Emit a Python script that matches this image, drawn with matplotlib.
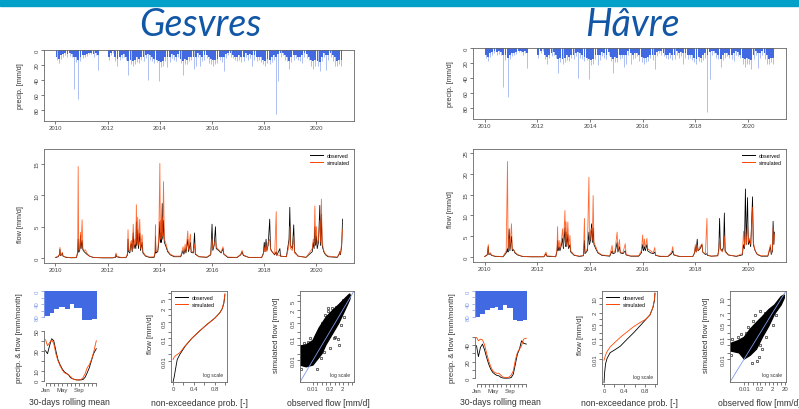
import numpy as np
import matplotlib.pyplot as plt
from matplotlib.lines import Line2D
from matplotlib.patches import Rectangle

W, H = 799, 410
plt.rcParams['font.family'] = ['Liberation Sans', 'DejaVu Sans']
plt.rcParams['axes.linewidth'] = 0.6
plt.rcParams['axes.edgecolor'] = '#666666'

BLUE = '#4169E1'
RED = '#FF4500'
LIGHTBLUE = '#7F9BEA'

# ---------------- data ----------------
# daily precipitation, summarised per month 2010-01 .. 2020-12 (same forcing for both catchments)
precip_typ = [
    10, 12, 7, 5, 4, 5, 4, 5, 10, 10, 13, 10,
    7, 7, 5, 4, 4, 5, 4, 7, 0, 0, 0, 0,
    9, 4, 2, 10, 12, 9, 7, 5, 9, 15, 13, 15,
    13, 10, 12, 9, 9, 7, 5, 7, 9, 12, 13, 15,
    16, 15, 10, 9, 9, 5, 7, 9, 5, 12, 15, 12,
    13, 10, 9, 10, 10, 4, 7, 9, 7, 7, 10, 12,
    13, 13, 12, 9, 10, 9, 5, 4, 4, 7, 9, 9,
    7, 10, 9, 4, 7, 5, 7, 7, 9, 9, 10, 13,
    15, 12, 13, 10, 7, 9, 5, 4, 4, 7, 10, 15,
    10, 7, 7, 9, 9, 7, 4, 5, 9, 13, 15, 13,
    15, 16, 10, 4, 7, 7, 4, 7, 10, 15, 13, 13]
precip_max = [
    14, 17, 12, 9, 7, 10, 8, 9, 52, 16, 65, 15,
    11, 10, 8, 6, 6, 9, 7, 27, 0, 0, 0, 0,
    13, 7, 4, 15, 21, 13, 11, 10, 13, 34, 19, 21,
    19, 16, 17, 13, 15, 11, 40, 13, 15, 17, 16, 42,
    23, 21, 15, 23, 16, 11, 13, 15, 9, 17, 34, 19,
    19, 15, 13, 25, 21, 9, 22, 15, 13, 11, 17, 19,
    21, 19, 17, 13, 16, 28, 11, 7, 9, 11, 13, 15,
    13, 16, 15, 9, 13, 11, 22, 13, 15, 13, 16, 19,
    21, 17, 19, 16, 13, 85, 42, 9, 7, 13, 15, 25,
    16, 13, 11, 13, 15, 17, 9, 11, 13, 22, 25, 21,
    21, 28, 15, 9, 27, 13, 9, 15, 21, 22, 19, 21]

# hydrograph nodes: (decimal year, observed, simulated) [mm/d]
gesvres_flow = [
    (2010.00, 0.05, 0.10), (2010.10, 0.20, 0.30), (2010.15, 0.50, 0.60), (2010.17, 1.4, 1.7),
    (2010.19, 0.4, 0.5), (2010.24, 0.5, 0.6), (2010.26, 0.8, 0.9), (2010.29, 0.3, 0.3),
    (2010.40, 0.10, 0.15), (2010.60, 0.03, 0.05), (2010.80, 0.05, 0.10), (2010.85, 0.8, 0.9),
    (2010.87, 3.0, 14.6), (2010.89, 0.9, 1.2), (2010.93, 1.2, 1.5), (2010.96, 3.6, 4.1),
    (2010.98, 1.5, 1.8), (2011.02, 2.8, 6.1), (2011.05, 1.3, 1.5), (2011.10, 1.0, 1.2),
    (2011.15, 0.8, 1.3), (2011.20, 0.6, 0.8), (2011.30, 0.3, 0.3), (2011.45, 0.08, 0.1),
    (2011.80, 0.02, 0.05), (2012.20, 0.02, 0.05), (2012.30, 0.1, 0.2), (2012.32, 0.6, 0.8),
    (2012.34, 0.2, 0.3), (2012.50, 0.05, 0.1), (2012.70, 0.05, 0.1), (2012.76, 0.5, 0.7),
    (2012.78, 3.0, 4.5), (2012.80, 1.0, 1.3), (2012.85, 0.8, 1.0), (2012.88, 2.0, 2.5),
    (2012.91, 2.3, 2.8), (2012.94, 1.0, 1.2), (2012.98, 4.0, 5.4), (2013.01, 1.5, 1.8),
    (2013.05, 2.2, 3.0), (2013.08, 1.5, 2.0), (2013.10, 5.8, 8.5), (2013.12, 2.0, 2.5),
    (2013.15, 4.5, 6.5), (2013.18, 1.5, 2.0), (2013.23, 4.0, 6.2), (2013.26, 1.2, 1.5),
    (2013.32, 2.5, 3.7), (2013.35, 0.8, 1.0), (2013.45, 0.3, 0.4), (2013.60, 0.1, 0.15),
    (2013.78, 0.1, 0.2), (2013.82, 0.8, 1.2), (2013.83, 3.5, 5.3), (2013.85, 0.8, 1.0),
    (2013.92, 1.0, 1.3), (2013.96, 2.5, 3.5), (2014.00, 5.8, 15.1), (2014.02, 2.5, 3.0),
    (2014.04, 4.0, 6.0), (2014.06, 2.5, 3.0), (2014.09, 8.7, 6.5), (2014.11, 3.0, 3.5),
    (2014.14, 6.0, 12.2), (2014.17, 2.5, 3.0), (2014.22, 2.0, 2.5), (2014.30, 1.0, 1.2),
    (2014.40, 0.5, 0.6), (2014.55, 0.2, 0.3), (2014.80, 0.2, 0.3), (2014.89, 1.2, 1.8),
    (2014.92, 0.6, 0.8), (2014.97, 1.5, 2.2), (2015.00, 0.8, 1.0), (2015.07, 3.0, 4.3),
    (2015.10, 1.0, 1.3), (2015.17, 2.5, 3.8), (2015.20, 0.9, 1.0), (2015.28, 0.8, 1.0),
    (2015.33, 4.0, 2.2), (2015.36, 0.6, 0.7), (2015.50, 0.2, 0.2), (2015.80, 0.1, 0.15),
    (2015.95, 0.5, 0.6), (2016.00, 5.4, 3.0), (2016.03, 1.2, 1.5), (2016.08, 2.0, 2.2),
    (2016.13, 5.0, 2.8), (2016.16, 1.5, 1.8), (2016.25, 1.2, 1.3), (2016.35, 0.8, 0.9),
    (2016.42, 1.5, 1.8), (2016.45, 0.6, 0.7), (2016.60, 0.1, 0.15), (2016.95, 0.05, 0.1),
    (2017.10, 0.5, 0.6), (2017.15, 1.0, 1.2), (2017.20, 0.4, 0.5), (2017.40, 0.1, 0.1),
    (2017.90, 0.05, 0.1), (2017.97, 0.8, 0.6), (2018.00, 2.5, 1.8), (2018.03, 1.0, 1.0),
    (2018.07, 3.0, 2.2), (2018.10, 1.2, 1.0), (2018.15, 2.0, 2.5), (2018.21, 6.2, 3.0),
    (2018.24, 1.5, 1.3), (2018.30, 1.0, 1.0), (2018.40, 0.5, 0.6), (2018.46, 1.0, 7.4),
    (2018.48, 0.4, 0.5), (2018.60, 1.5, 0.4), (2018.62, 0.3, 0.3), (2018.85, 0.2, 0.2),
    (2018.95, 3.0, 2.0), (2018.98, 8.1, 5.0), (2019.01, 2.0, 1.5), (2019.08, 1.5, 1.2),
    (2019.13, 5.3, 3.5), (2019.16, 1.0, 0.8), (2019.30, 0.3, 0.3), (2019.60, 0.1, 0.1),
    (2019.84, 1.0, 1.5), (2019.88, 2.5, 3.0), (2019.91, 1.5, 2.0), (2019.94, 5.0, 8.3),
    (2019.97, 2.0, 2.5), (2020.00, 3.5, 5.0), (2020.03, 1.5, 2.0), (2020.08, 2.5, 3.0),
    (2020.13, 8.4, 6.0), (2020.16, 2.0, 2.5), (2020.19, 7.0, 9.4), (2020.22, 2.0, 2.5),
    (2020.28, 1.0, 1.2), (2020.35, 0.5, 0.6), (2020.45, 0.2, 0.3), (2020.80, 0.1, 0.15),
    (2020.87, 0.6, 0.7), (2020.89, 1.0, 1.0), (2020.92, 0.5, 0.6), (2020.97, 2.0, 2.5),
    (2021.00, 6.2, 4.5)]

havre_flow = [
    (2010.00, 0.1, 0.1), (2010.10, 0.5, 0.6), (2010.14, 2.5, 3.0), (2010.16, 0.6, 0.8),
    (2010.22, 0.8, 1.0), (2010.26, 0.4, 0.5), (2010.40, 0.15, 0.2), (2010.70, 0.05, 0.1),
    (2010.82, 1.0, 1.5), (2010.87, 2.0, 23.0), (2010.89, 1.2, 2.0), (2010.93, 6.8, 4.5),
    (2010.96, 1.5, 2.0), (2011.02, 5.0, 8.0), (2011.05, 1.5, 2.0), (2011.10, 1.8, 1.8),
    (2011.15, 1.0, 1.2), (2011.25, 0.5, 0.6), (2011.45, 0.1, 0.15), (2011.80, 0.05, 0.05),
    (2012.25, 0.05, 0.1), (2012.33, 0.8, 1.2), (2012.36, 0.2, 0.3), (2012.70, 0.05, 0.1),
    (2012.75, 1.5, 2.0), (2012.77, 4.0, 7.3), (2012.79, 1.5, 2.0), (2012.83, 2.5, 4.0),
    (2012.86, 1.5, 2.0), (2012.92, 3.0, 4.3), (2012.96, 4.5, 6.8), (2012.99, 2.0, 2.5),
    (2013.05, 7.0, 11.2), (2013.07, 2.5, 3.0), (2013.09, 6.0, 8.5), (2013.12, 2.5, 3.0),
    (2013.16, 5.5, 8.4), (2013.19, 2.0, 2.5), (2013.24, 3.0, 5.2), (2013.27, 1.2, 1.5),
    (2013.40, 0.4, 0.5), (2013.60, 0.15, 0.2), (2013.75, 0.3, 0.4), (2013.79, 4.0, 9.3),
    (2013.81, 0.8, 1.0), (2013.90, 1.5, 2.0), (2013.96, 6.0, 19.2), (2013.98, 3.0, 3.5),
    (2014.02, 4.0, 6.0), (2014.06, 8.0, 7.0), (2014.09, 3.5, 4.0), (2014.12, 7.0, 14.8),
    (2014.15, 3.0, 3.5), (2014.22, 2.0, 2.5), (2014.30, 1.0, 1.2), (2014.45, 0.4, 0.5),
    (2014.75, 0.2, 0.3), (2014.84, 1.5, 2.8), (2014.87, 0.8, 1.0), (2014.95, 1.0, 1.5),
    (2015.03, 3.5, 6.0), (2015.06, 1.2, 1.5), (2015.12, 2.5, 4.2), (2015.15, 1.0, 1.2),
    (2015.25, 0.8, 1.0), (2015.34, 1.5, 3.2), (2015.37, 0.5, 0.6), (2015.55, 0.2, 0.25),
    (2015.85, 0.2, 0.3), (2015.95, 1.0, 1.5), (2016.00, 3.0, 5.3), (2016.03, 1.5, 2.0),
    (2016.07, 2.5, 4.3), (2016.10, 1.5, 2.0), (2016.16, 3.0, 4.5), (2016.19, 1.5, 2.0),
    (2016.30, 1.0, 1.5), (2016.40, 0.8, 1.0), (2016.46, 1.2, 2.3), (2016.49, 0.4, 0.5),
    (2016.65, 0.15, 0.2), (2016.95, 0.1, 0.15), (2017.10, 0.8, 1.2), (2017.14, 1.5, 2.5),
    (2017.18, 0.5, 0.6), (2017.40, 0.1, 0.15), (2017.90, 0.1, 0.1), (2017.97, 1.0, 1.0),
    (2018.00, 2.5, 3.0), (2018.03, 1.2, 1.2), (2018.07, 4.3, 3.0), (2018.10, 1.5, 1.5),
    (2018.18, 2.0, 2.5), (2018.25, 3.0, 3.2), (2018.28, 1.2, 1.2), (2018.38, 0.6, 0.8),
    (2018.44, 0.8, 9.3), (2018.46, 0.4, 0.5), (2018.60, 0.2, 0.2), (2018.85, 0.3, 0.3),
    (2018.89, 2.0, 1.5), (2018.92, 9.3, 4.5), (2018.95, 2.0, 1.8), (2019.02, 1.5, 1.2),
    (2019.07, 2.5, 2.0), (2019.10, 10.6, 5.0), (2019.13, 1.5, 1.2), (2019.25, 0.5, 0.5),
    (2019.55, 0.15, 0.2), (2019.78, 0.5, 0.8), (2019.83, 3.0, 6.2), (2019.86, 2.0, 2.5),
    (2019.90, 16.4, 6.0), (2019.93, 3.0, 3.0), (2019.98, 14.3, 8.0), (2020.01, 3.0, 3.5),
    (2020.05, 4.0, 4.5), (2020.10, 2.5, 3.0), (2020.17, 14.5, 12.0), (2020.20, 3.0, 3.5),
    (2020.27, 1.5, 1.5), (2020.35, 0.6, 0.7), (2020.50, 0.2, 0.3), (2020.75, 0.2, 0.3),
    (2020.85, 2.5, 3.0), (2020.88, 0.6, 0.8), (2020.93, 1.5, 2.0), (2020.95, 8.6, 7.0),
    (2020.98, 3.0, 3.5), (2021.00, 6.0, 5.5)]

# 30-days rolling mean regime [mm/month]
regime_day = [1, 15, 30, 45, 60, 75, 90, 105, 120, 135, 150, 165, 180,
              195, 210, 225, 240, 255, 270, 285, 300, 315, 330, 345, 365]
gesvres_reg_obs = [30, 27, 35, 42, 40, 30, 21, 16, 12, 9, 7.5, 6, 3,
                   2, 1.2, 0.8, 0.7, 0.8, 1.2, 3.5, 8, 13, 20, 27, 32]
gesvres_reg_sim = [41, 35, 38, 41, 37, 27, 20, 15, 11, 8, 7, 6, 4,
                   2, 1.2, 0.8, 0.7, 1.2, 3, 7, 13, 16, 21, 28, 40]
havre_reg_obs = [39, 26, 37, 41, 34, 25, 17, 11, 7, 5, 3.5, 3, 1,
                 0.4, 0.2, 0.2, 0.3, 1, 5, 17, 29, 35, 45, 42, 41]
havre_reg_sim = [49, 45, 47, 46, 40, 30, 21, 14, 9, 7, 6, 6, 3.5,
                 1.5, 1, 1, 1.5, 4, 9, 22, 31, 35, 39, 47, 48]
gesvres_reg_p_edges = [-10, 33, 64, 98, 140, 176, 204, 259, 299, 333, 370]
gesvres_reg_p = [77, 68, 54, 49, 56, 41, 51, 88, 90, 87]
havre_reg_p_edges = [-10, 27, 63, 100, 136, 160, 197, 222, 265, 300, 339, 370]
havre_reg_p = [80, 71, 60, 54, 50, 60, 42, 54, 91, 94, 88]

# flow duration curves
gesvres_fdc_prob = [0, 0.02, 0.05, 0.08, 0.13, 0.23, 0.36, 0.5, 0.65, 0.8, 0.9, 0.95, 0.98, 1.0]
gesvres_fdc_obs = [0.0013, 0.002, 0.005, 0.012, 0.02, 0.045, 0.1, 0.2, 0.4, 0.75, 1.3, 2.0, 3.5, 8]
gesvres_fdc_sim = [0.012, 0.015, 0.018, 0.02, 0.024, 0.047, 0.1, 0.2, 0.4, 0.75, 1.3, 2.1, 3.8, 9]
havre_fdc_prob = [0, 0.01, 0.03, 0.06, 0.12, 0.22, 0.32, 0.45, 0.58, 0.71, 0.81, 0.9, 0.96, 0.99, 1.0]
havre_fdc_obs = [0.0007, 0.002, 0.006, 0.011, 0.021, 0.03, 0.044, 0.095, 0.2, 0.45, 0.85, 1.5, 3.5, 8, 18]
havre_fdc_sim = [0.009, 0.011, 0.016, 0.024, 0.04, 0.07, 0.12, 0.22, 0.4, 0.65, 0.9, 1.5, 3.6, 9, 18]

# obs vs sim scatter: outline of the dense cloud and isolated points (obs, sim)
gesvres_cloud = [
    (0.001, 0.006), (0.003, 0.005), (0.01, 0.006), (0.05, 0.02), (0.1, 0.05), (0.3, 0.15),
    (1, 0.5), (3, 2), (7, 6), (8, 9), (7, 11), (4, 8), (1, 3.5), (0.3, 1.8), (0.1, 0.9),
    (0.03, 0.3), (0.01, 0.08), (0.003, 0.05), (0.001, 0.045)]
gesvres_points = [
    (0.0011, 0.02), (0.0013, 0.004), (0.002, 0.06), (0.05, 0.5), (0.08, 1.2), (0.14, 2.6),
    (0.15, 1.8), (0.3, 2.4), (0.84, 0.09), (1.1, 0.05), (0.5, 0.12), (1.5, 0.4), (0.2, 0.035),
    (0.006, 0.1), (0.02, 0.004), (0.04, 0.012), (2.5, 1.0), (0.02, 0.16), (0.6, 2.8),
    (0.07, 0.025), (0.4, 0.1), (2, 5.5), (0.004, 0.07)]
havre_cloud = [
    (0.0008, 0.025), (0.004, 0.02), (0.01, 0.01), (0.03, 0.015), (0.1, 0.031), (0.3, 0.12),
    (1, 0.44), (3, 1.8), (10, 5), (18, 11), (18, 16), (10, 13), (3, 5), (1, 2.9), (0.3, 1.3),
    (0.1, 0.66), (0.03, 0.3), (0.01, 0.12), (0.003, 0.08), (0.0008, 0.06)]
havre_points = [
    (0.0008, 0.015), (0.001, 0.1), (0.1, 0.008), (0.15, 0.012), (0.3, 0.03), (0.05, 0.8),
    (0.08, 1.5), (0.2, 2.5), (0.6, 0.12), (0.02, 0.4), (2.0, 0.5), (0.006, 0.18), (0.04, 0.006),
    (0.5, 2.0), (0.015, 0.2), (0.2, 0.05), (4, 1.5), (0.003, 0.12)]


# ---------------- helpers ----------------
def px_axes(fig, x0, y0, x1, y1):
    return fig.add_axes([x0 / W, 1 - y1 / H, (x1 - x0) / W, (y1 - y0) / H])


def px_text(fig, x, y, s, **kw):
    fig.text(x / W, 1 - y / H, s, **kw)


def style(ax):
    ax.tick_params(length=2, width=0.5, pad=1.2, labelsize=4.3, colors='#444444')
    ax.tick_params(axis='y', labelrotation=90)
    for lab in ax.get_yticklabels():
        lab.set_va('center')
    ax.minorticks_off()


def legend(ax, loc):
    hs = [Line2D([], [], color='k', lw=0.7, label='observed'),
          Line2D([], [], color=RED, lw=0.7, label='simulated')]
    ax.legend(handles=hs, loc=loc, frameon=False, fontsize=3.8, handlelength=2.4,
              handletextpad=0.8, labelspacing=0.25, borderaxespad=0.4)


def draw_station(fig, name, tx, box, flow, ylim_flow, yt_flow,
                 reg_obs, reg_sim, p_edges, p_vals, reg_box, reg_lim, reg_labels,
                 fdc_prob, fdc_obs, fdc_sim, fdc_box, fdc_lim, fdc_labels,
                 cloud, points, sc_box, sc_lim, sc_xlabels, lab_x):
    px_text(fig, tx, 25, name, fontsize=27, style='italic', family=['Lato', 'DejaVu Sans'],
            color='#1257A6', ha='center', va='center')

    x0, x1, py0, py1, fy0, fy1 = box
    # precipitation
    ax = px_axes(fig, x0, py0, x1, py1)
    mid = 2010 + (np.arange(len(precip_max)) + 0.5) / 12
    ax.bar(mid, precip_typ, width=0.85 / 12, color=BLUE, linewidth=0)
    ax.vlines(mid, 0, precip_max, color=BLUE, lw=0.6, alpha=0.5)
    ax.set_xlim(2009.56, 2021.44)
    ax.set_ylim(95, 0)
    ax.set_yticks([0, 20, 40, 60, 80])
    ax.set_xticks(range(2010, 2021, 2))
    style(ax)
    px_text(fig, lab_x[0], (py0 + py1) / 2, 'precip. [mm/d]', fontsize=5.2,
            rotation=90, ha='center', va='center', color='#333333')

    # flow
    t = [r[0] for r in flow]
    ax = px_axes(fig, x0, fy0, x1, fy1)
    ax.plot(t, [r[1] for r in flow], color='k', lw=0.55)
    ax.plot(t, [r[2] for r in flow], color=RED, lw=0.6, alpha=0.8)
    ax.set_xlim(2009.56, 2021.44)
    ax.set_ylim(*ylim_flow)
    ax.set_yticks(yt_flow)
    ax.set_xticks(range(2010, 2021, 2))
    style(ax)
    legend(ax, 'upper right')
    px_text(fig, lab_x[0], (fy0 + fy1) / 2 + lab_x[1], 'flow [mm/d]', fontsize=5.2,
            rotation=90, ha='center', va='center', color='#333333')

    # regime
    rx0, ry0, rx1, ry1 = reg_box
    ax = px_axes(fig, rx0, ry0, rx1, ry1)
    ax2 = ax.twinx()
    ax2.stairs(p_vals, p_edges, fill=True, color=BLUE, baseline=0)
    ax2.set_ylim(reg_lim[2], 0)
    ax2.yaxis.tick_left()
    ax.plot(regime_day, reg_obs, color='k', lw=0.6)
    ax.plot(regime_day, reg_sim, color=RED, lw=0.6)
    ax.set_xlim(-10, 370)
    ax.set_ylim(reg_lim[0], reg_lim[1])
    ax.set_xticks([1, 32, 60, 91, 121, 152, 182, 213, 244, 274, 305, 335, 365])
    ax.set_xticklabels(['Jan', '', '', '', 'May', '', '', '', 'Sep', '', '', '', ''])
    ax.set_yticks([0, 10, 20, 30, 40, 50])
    ax.set_yticklabels(reg_labels)
    ax2.set_yticks([0, 20, 40, 60, 80])
    ax2.set_yticklabels(['0', '', '40', '', '80'])
    for a in (ax, ax2):
        for s in ('top', 'right'):
            a.spines[s].set_visible(False)
    ax2.spines['bottom'].set_visible(False)
    ax.spines['left'].set_bounds(0, 50)
    ax.spines['bottom'].set_bounds(1, 365)
    ax2.spines['left'].set_bounds(0, 80)
    ax2.spines['left'].set_color(LIGHTBLUE)
    style(ax)
    style(ax2)
    ax2.tick_params(axis='y', colors=LIGHTBLUE)
    px_text(fig, lab_x[2], 338, 'precip. & flow [mm/month]', fontsize=5.6,
            rotation=90, ha='center', va='center', color='#333333')
    px_text(fig, (rx0 + rx1) / 2 - 1, 403, '30-days rolling mean', fontsize=6.2,
            ha='center', va='center', color='#333333')

    # flow duration curve
    cx0, cy0, cx1, cy1 = fdc_box
    ax = px_axes(fig, cx0, cy0, cx1, cy1)
    ax.plot(fdc_prob, fdc_obs, color='k', lw=0.6)
    ax.plot(fdc_prob, fdc_sim, color=RED, lw=0.6)
    ax.set_yscale('log')
    ax.set_xlim(-0.04, 1.04)
    ax.set_ylim(*fdc_lim)
    yt = [0.01, 0.02, 0.05, 0.1, 0.2, 0.5, 1, 2, 5, 10]
    ax.set_yticks(yt)
    ax.set_yticklabels([str(v) if str(v) in fdc_labels else '' for v in yt])
    ax.set_xticks([0, 0.2, 0.4, 0.6, 0.8, 1.0])
    ax.set_xticklabels(['0', '', '0.4', '', '0.8', ''])
    style(ax)
    legend(ax, 'upper left')
    ax.text(0.93, 0.05, 'log scale', transform=ax.transAxes, ha='right', va='bottom',
            fontsize=3.6, color='#333333')
    px_text(fig, cx0 - 21, (cy0 + cy1) / 2 - 3, 'flow [mm/d]', fontsize=5.6,
            rotation=90, ha='center', va='center', color='#333333')
    px_text(fig, (cx0 + cx1) / 2, 404, 'non-exceedance prob. [-]', fontsize=6.2,
            ha='center', va='center', color='#333333')

    # observed vs simulated
    sx0, sy0, sx1, sy1 = sc_box
    ax = px_axes(fig, sx0, sy0, sx1, sy1)
    ax.plot(sc_lim, sc_lim, color='#7F9BEA', lw=0.6)
    ax.fill([c[0] for c in cloud], [c[1] for c in cloud], color='k', lw=1.0)
    ax.plot([p[0] for p in points], [p[1] for p in points], 'o', mfc='none', mec='k',
            ms=1.8, mew=0.4)
    ax.set_xscale('log')
    ax.set_yscale('log')
    ax.set_xlim(*sc_lim)
    ax.set_ylim(*sc_lim)
    xt = [0.01, 0.02, 0.05, 0.1, 0.2, 0.5, 1, 2, 5, 10, 20]
    xt = [v for v in xt if v < sc_lim[1]]
    ax.set_xticks(xt)
    ax.set_xticklabels([str(v) if str(v) in sc_xlabels else '' for v in xt])
    ax.set_yticks(yt)
    ax.set_yticklabels([str(v) if str(v) in fdc_labels else '' for v in yt])
    style(ax)
    ax.text(0.93, 0.05, 'log scale', transform=ax.transAxes, ha='right', va='bottom',
            fontsize=3.6, color='#333333')
    px_text(fig, sx0 - 23, (sy0 + sy1) / 2 - 2, 'simulated flow [mm/d]', fontsize=5.6,
            rotation=90, ha='center', va='center', color='#333333')
    px_text(fig, (sx0 + sx1) / 2 + 1, 404, 'observed flow [mm/d]', fontsize=6.2,
            ha='center', va='center', color='#333333')


fig = plt.figure(figsize=(W / 100, H / 100), dpi=100)
fig.patches.append(Rectangle((0, 1 - 7 / H), 1, 7 / H, transform=fig.transFigure,
                             color='#00A0C8', zorder=0))

draw_station(fig, 'Gesvres', 200, (44, 354, 51, 122, 150, 264),
             gesvres_flow, (-0.8, 17.4), [0, 5, 10, 15],
             gesvres_reg_obs, gesvres_reg_sim, gesvres_reg_p_edges, gesvres_reg_p,
             (44, 292, 97, 384), (-2.3, 89.7, 283), ['0', '10', '', '30', '', '50'],
             gesvres_fdc_prob, gesvres_fdc_obs, gesvres_fdc_sim, (171, 292, 227, 383),
             (0.00126, 11.7), ['0.01', '0.1', '0.5', '2', '5'],
             gesvres_cloud, gesvres_points, (300, 292, 354, 383), (0.001, 15),
             ['0.01', '0.2', '2'], (20, 18, 20))

draw_station(fig, 'Hâvre', 632, (473, 786, 49, 120, 150, 263),
             havre_flow, (-1.2, 26), [0, 5, 10, 15, 20, 25],
             havre_reg_obs, havre_reg_sim, havre_reg_p_edges, havre_reg_p,
             (475, 292, 527, 385), (-6.8, 104.6, 287), ['0', '', '20', '', '40', ''],
             havre_fdc_prob, havre_fdc_obs, havre_fdc_sim, (602, 292, 657, 385),
             (0.0006, 23), ['0.01', '0.1', '0.5', '2', '10'],
             havre_cloud, havre_points, (730, 292, 786, 383), (0.0007, 25),
             ['0.01', '0.2', '2', '20'], (451, 3, 452))

fig.savefig('out.png', dpi=100)
